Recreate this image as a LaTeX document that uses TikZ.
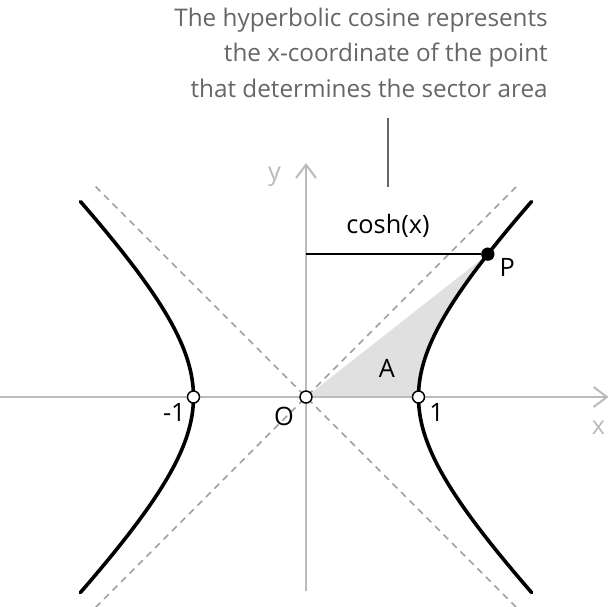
\documentclass[tikz,border=0pt]{standalone}
\usepackage{fontspec}
\setmainfont{Open Sans}
\usetikzlibrary{arrows.meta,positioning}
\definecolor{axisgray}{HTML}{BBBBBB}
\definecolor{dashgray}{HTML}{A0A0A0}
\definecolor{notegray}{HTML}{666666}
\definecolor{sectorgray}{HTML}{E0E0E0}
\begin{document}
\begin{tikzpicture}[x=84.375pt,y=84.375pt,
  axis/.style={draw=axisgray,line width=1.5pt,-{Straight Barb[length=10pt,width=15pt]}},
  asym/.style={draw=dashgray,line width=1.1pt,dash pattern=on 5pt off 4pt},
  branch/.style={line width=2.7pt,line cap=round},
  hollow/.style={circle,draw,fill=white,line width=1.1pt,inner sep=0pt,minimum size=9pt},
  pdot/.style={circle,fill=black,inner sep=0pt,minimum size=10pt},
  lbl/.style={font=\fontsize{19}{22}\selectfont,inner sep=0pt}]
\useasboundingbox (-2.72,-1.858) rectangle (2.72,3.529);
\pgfmathsetmacro{\tp}{1.06}
% sector
\fill[sectorgray] (0,0) -- plot[domain=0:\tp,samples=30,smooth] ({cosh(\x)},{sinh(\x)}) -- cycle;
% axes and asymptotes
\coordinate (xl) at (-2.72,0);
\coordinate (xr) at (2.69,0);
\coordinate (yb) at (0,-1.72);
\coordinate (yt) at (0,2.08);
\coordinate (a1) at (-1.87,-1.87);
\coordinate (a2) at (1.87,1.87);
\coordinate (a3) at (-1.87,1.87);
\coordinate (a4) at (1.87,-1.87);
\draw[axis] (xl) -- (xr);
\draw[axis] (yb) -- (yt);
\draw[asym] (a1) -- (a2);
\draw[asym] (a3) -- (a4);
% the two branches
\draw[branch] plot[domain=-1.32:1.32,samples=60,smooth] ({cosh(\x)},{sinh(\x)});
\draw[branch] plot[domain=-1.32:1.32,samples=60,smooth] ({-cosh(\x)},{sinh(\x)});
% points
\node[hollow] (O) at (0,0) {};
\node[hollow] (R) at (1,0) {};
\node[hollow] (L) at (-1,0) {};
\node[pdot] (P) at ({cosh(\tp)},{sinh(\tp)}) {};
\coordinate (H) at (0,{sinh(\tp)});
\draw[line width=1.5pt] (H) -- (P);
% labels
\node[lbl] (lO) at (-0.196,-0.17) {O};
\node[lbl] (lR) at (1.16,-0.14) {1};
\node[lbl] (lL) at (-1.17,-0.14) {-1};
\node[lbl] (lA) at (0.72,0.25) {A};
\node[lbl] (lP) at (1.79,1.15) {P};
\node[lbl] (lc) at (0.729,1.52) {cosh(x)};
\node[lbl,text=axisgray] (lx) at (2.6,-0.27) {x};
\node[lbl,text=axisgray] (ly) at (-0.28,1.96) {y};
% note
\coordinate (m1) at (0.729,2.48);
\coordinate (m2) at (0.729,1.867);
\draw[draw=notegray,line width=1.5pt] (m1) -- (m2);
\node[lbl,text=notegray,font=\fontsize{18.2}{26.5}\selectfont,align=right,anchor=north east] (note) at (2.151,3.46)
  {The hyperbolic cosine represents\\the x-coordinate of the point\\that determines the sector area};
\end{tikzpicture}
\end{document}
